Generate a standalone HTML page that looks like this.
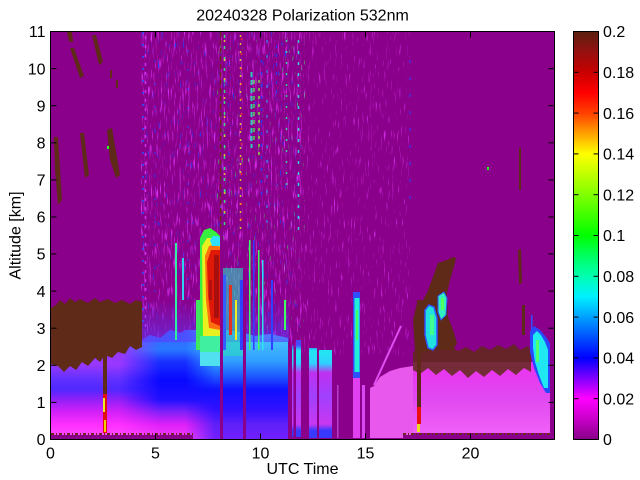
<!DOCTYPE html>
<html><head><meta charset="utf-8"><style>
html,body{margin:0;padding:0;background:#fff;}
svg{display:block;}
text{font-family:"Liberation Sans",Arial,Helvetica,sans-serif;font-size:16px;fill:#000;}
</style></head><body>
<svg xmlns="http://www.w3.org/2000/svg" width="640" height="480" viewBox="0 0 640 480">
<defs>
<linearGradient id="cb" x1="0" y1="1" x2="0" y2="0">
<stop offset="0" stop-color="#880088"/>
<stop offset="0.05" stop-color="#c800c8"/>
<stop offset="0.1" stop-color="#ff00ff"/>
<stop offset="0.15" stop-color="#8000ff"/>
<stop offset="0.2" stop-color="#0000ff"/>
<stop offset="0.25" stop-color="#0050ff"/>
<stop offset="0.3" stop-color="#00a0ff"/>
<stop offset="0.35" stop-color="#00f0ff"/>
<stop offset="0.4" stop-color="#00ffb0"/>
<stop offset="0.45" stop-color="#00ff60"/>
<stop offset="0.5" stop-color="#00ff00"/>
<stop offset="0.6" stop-color="#80ff00"/>
<stop offset="0.7" stop-color="#ffff00"/>
<stop offset="0.75" stop-color="#ffa000"/>
<stop offset="0.8" stop-color="#ff4000"/>
<stop offset="0.85" stop-color="#ff0000"/>
<stop offset="0.9" stop-color="#c80000"/>
<stop offset="0.95" stop-color="#961010"/>
<stop offset="1" stop-color="#5a2010"/>
</linearGradient>
<filter id="fA" filterUnits="userSpaceOnUse" x="141" y="32" width="160" height="315" color-interpolation-filters="sRGB">
<feTurbulence type="fractalNoise" baseFrequency="0.7 0.07" numOctaves="2" seed="4"/>
<feColorMatrix type="matrix" values="0 0 0 0 0.86  0 0 0 0 0.2  0 0 0 0 0.96  4.5 0 0 0 -2.6"/>
</filter>
<filter id="fB" filterUnits="userSpaceOnUse" x="300" y="32" width="110" height="323" color-interpolation-filters="sRGB">
<feTurbulence type="fractalNoise" baseFrequency="0.7 0.07" numOctaves="2" seed="9"/>
<feColorMatrix type="matrix" values="0 0 0 0 0.86  0 0 0 0 0.2  0 0 0 0 0.96  4.5 0 0 0 -2.85"/>
</filter>
<filter id="fC" filterUnits="userSpaceOnUse" x="141" y="32" width="160" height="315" color-interpolation-filters="sRGB">
<feTurbulence type="fractalNoise" baseFrequency="0.6 0.1" numOctaves="2" seed="13"/>
<feColorMatrix type="matrix" values="0 0 0 0 0.15  0 0 0 0 0.25  0 0 0 0 1  6 0 0 0 -4.1"/>
</filter>
<filter id="fD" filterUnits="userSpaceOnUse" x="215" y="32" width="90" height="320" color-interpolation-filters="sRGB">
<feTurbulence type="fractalNoise" baseFrequency="0.7 0.09" numOctaves="2" seed="21"/>
<feColorMatrix type="matrix" values="0 0 0 0 0.2  0 0 0 0 1  0 0 0 0 0.4  6 0 0 0 -4.3"/>
</filter>
<clipPath id="cL"><polygon points="51,340 142,340 150,335 160,338 170,330 180,333 190,328 200,331 210,334 225,330 240,332 255,336 270,334 288,338 288,439 51,439"/></clipPath>
<linearGradient id="gA" gradientUnits="userSpaceOnUse" x1="0" y1="340" x2="0" y2="439">
<stop offset="0" stop-color="#9838ff"/>
<stop offset="0.25" stop-color="#9838ff"/>
<stop offset="0.4" stop-color="#6030ff"/>
<stop offset="0.5" stop-color="#5028ff"/>
<stop offset="0.6" stop-color="#9020f8"/>
<stop offset="0.72" stop-color="#d020f8"/>
<stop offset="0.86" stop-color="#ff30ff"/>
<stop offset="1" stop-color="#ff50ff"/>
</linearGradient>
<linearGradient id="gB" gradientUnits="userSpaceOnUse" x1="0" y1="330" x2="0" y2="439">
<stop offset="0" stop-color="#4060ff"/>
<stop offset="0.18" stop-color="#2878ff"/>
<stop offset="0.29" stop-color="#1830ff"/>
<stop offset="0.46" stop-color="#0808ff"/>
<stop offset="0.64" stop-color="#2010ff"/>
<stop offset="0.75" stop-color="#8020f8"/>
<stop offset="0.87" stop-color="#e020f8"/>
<stop offset="1" stop-color="#f040ff"/>
</linearGradient>
<linearGradient id="gC" gradientUnits="userSpaceOnUse" x1="0" y1="330" x2="0" y2="439">
<stop offset="0" stop-color="#50b8ff"/>
<stop offset="0.14" stop-color="#40b8ff"/>
<stop offset="0.28" stop-color="#30a0ff"/>
<stop offset="0.41" stop-color="#2060ff"/>
<stop offset="0.55" stop-color="#1010ff"/>
<stop offset="0.73" stop-color="#3010ff"/>
<stop offset="0.87" stop-color="#6020f8"/>
<stop offset="1" stop-color="#7020ff"/>
</linearGradient>
<linearGradient id="mgB" gradientUnits="userSpaceOnUse" x1="120" y1="0" x2="160" y2="0"><stop offset="0" stop-color="#000"/><stop offset="1" stop-color="#fff"/></linearGradient>
<linearGradient id="mgC" gradientUnits="userSpaceOnUse" x1="185" y1="0" x2="215" y2="0"><stop offset="0" stop-color="#000"/><stop offset="1" stop-color="#fff"/></linearGradient>
<mask id="mB" maskUnits="userSpaceOnUse" x="0" y="0" width="640" height="480"><rect x="0" y="0" width="640" height="480" fill="url(#mgB)"/></mask>
<mask id="mC" maskUnits="userSpaceOnUse" x="0" y="0" width="640" height="480"><rect x="0" y="0" width="640" height="480" fill="url(#mgC)"/></mask>
<linearGradient id="gR" gradientUnits="userSpaceOnUse" x1="0" y1="362" x2="0" y2="433">
<stop offset="0" stop-color="#f030f8"/>
<stop offset="0.15" stop-color="#e838f0"/>
<stop offset="0.5" stop-color="#e048f0"/>
<stop offset="1" stop-color="#f060f8"/>
</linearGradient>
<linearGradient id="gM" gradientUnits="userSpaceOnUse" x1="0" y1="345" x2="0" y2="438">
<stop offset="0" stop-color="#4848ff"/>
<stop offset="0.06" stop-color="#20e8f0"/>
<stop offset="0.2" stop-color="#30d0ff"/>
<stop offset="0.3" stop-color="#c030f0"/>
<stop offset="0.55" stop-color="#a040ff"/>
<stop offset="0.85" stop-color="#c838f0"/>
<stop offset="0.92" stop-color="#3838ff"/>
<stop offset="1" stop-color="#3838ff"/>
</linearGradient>
<linearGradient id="fr" gradientUnits="userSpaceOnUse" x1="0" y1="298" x2="0" y2="342">
<stop offset="0" stop-color="#5a3cff" stop-opacity="0"/>
<stop offset="1" stop-color="#5a3cff" stop-opacity="0.6"/>
</linearGradient>
</defs>

<rect x="0" y="0" width="640" height="480" fill="#fff"/>
<rect x="51" y="32" width="503" height="407" fill="#8a008a"/>

<!-- speckle noise -->
<rect x="141" y="32" width="160" height="315" filter="url(#fA)"/>
<rect x="300" y="32" width="110" height="323" filter="url(#fB)"/>
<rect x="141" y="32" width="160" height="315" filter="url(#fC)"/>
<rect x="215" y="32" width="90" height="320" filter="url(#fD)"/>
<line x1="143" y1="32" x2="143" y2="330" stroke="#3050ff" stroke-width="2" stroke-dasharray="2 10" opacity="0.8"/>
<line x1="145.5" y1="36" x2="145.5" y2="330" stroke="#d030f0" stroke-width="1.5" stroke-dasharray="3 6"/>

<!-- colored thin lines in upper region -->
<g opacity="0.85">
<line x1="224.5" y1="35" x2="224.5" y2="227" stroke="#30ff80" stroke-width="1.5" stroke-dasharray="3 8"/>
<line x1="224.5" y1="40" x2="224.5" y2="227" stroke="#f0e020" stroke-width="1.5" stroke-dasharray="2 17"/>
<line x1="240.5" y1="35" x2="240.5" y2="230" stroke="#e0e020" stroke-width="1.5" stroke-dasharray="2 6"/>
<line x1="241.5" y1="38" x2="241.5" y2="230" stroke="#ff3020" stroke-width="1.5" stroke-dasharray="2 13"/>
<line x1="251.5" y1="72" x2="251.5" y2="148" stroke="#20f0c0" stroke-width="2" stroke-dasharray="5 3"/>
<line x1="254" y1="80" x2="254" y2="140" stroke="#40ff40" stroke-width="1.5" stroke-dasharray="4 4"/>
<line x1="259" y1="80" x2="259" y2="158" stroke="#80ff30" stroke-width="1.5" stroke-dasharray="3 5"/>
<line x1="261.5" y1="60" x2="261.5" y2="200" stroke="#2040ff" stroke-width="1.5" stroke-dasharray="3 9"/>
<line x1="267" y1="40" x2="267" y2="230" stroke="#30a0ff" stroke-width="1.2" stroke-dasharray="3 12"/>
<line x1="276.5" y1="45" x2="276.5" y2="100" stroke="#2040ff" stroke-width="1.2" stroke-dasharray="3 6"/>
<line x1="286.5" y1="40" x2="286.5" y2="190" stroke="#30f0a0" stroke-width="1.5" stroke-dasharray="2 9"/>
<line x1="298.5" y1="40" x2="298.5" y2="230" stroke="#30f0e0" stroke-width="1.5" stroke-dasharray="3 8"/>
<line x1="410" y1="60" x2="410" y2="200" stroke="#3040ff" stroke-width="1.2" stroke-dasharray="3 14"/>
<line x1="155" y1="60" x2="155" y2="300" stroke="#3040ff" stroke-width="1.2" stroke-dasharray="2 21"/>
<line x1="188" y1="50" x2="188" y2="300" stroke="#3040ff" stroke-width="1.2" stroke-dasharray="2 17"/>
</g>

<!-- lower-left aerosol layer -->
<g clip-path="url(#cL)">
<rect x="51" y="330" width="240" height="110" fill="url(#gA)"/>
<rect x="51" y="330" width="240" height="110" fill="url(#gB)" mask="url(#mB)"/>
<rect x="51" y="330" width="240" height="110" fill="url(#gC)" mask="url(#mC)"/>
</g>
<rect x="141" y="298" width="148" height="44" fill="url(#fr)"/>

<!-- blocks near 11.5-13h -->
<rect x="292" y="345" width="1.5" height="92" fill="url(#gM)"/>
<rect x="296" y="340" width="5" height="97" fill="url(#gM)"/>
<rect x="309" y="348" width="8" height="90" fill="url(#gM)"/>
<rect x="319" y="350" width="13" height="88" fill="url(#gM)"/>

<!-- left brown region -->
<polygon fill="#5f2a17" points="51,308 56,305 60,300 65,304 70,298 75,302 80,299 88,303 95,298 100,302 108,299 115,303 122,300 130,304 136,300 142,302 142,347 136,350 130,346 125,354 118,352 112,358 105,355 100,362 95,358 88,366 82,362 76,370 70,366 64,372 58,366 51,364"/>
<rect x="103" y="355" width="4" height="40" fill="#5f2a17"/>
<rect x="103" y="394" width="4" height="39" fill="#e01010"/>
<rect x="103" y="398" width="2" height="14" fill="#e8f020"/>
<rect x="104" y="420" width="2" height="12" fill="#f0d000"/>
<g fill="#5f2a17">
<polygon points="67,32 72,32 73,42 69,42"/>
<polygon points="70,48 74,48 84,76 80,78"/>
<polygon points="92,35 96,35 103,62 99,65"/>
<rect x="110" y="70" width="2" height="8"/>
<rect x="116" y="80" width="2" height="8"/>
<polygon points="54,137 58,137 62,200 58,205 55,170"/>
<polygon points="80,133 84,133 89,175 85,178"/>
<polygon points="107,130 112,128 120,175 116,178 110,160"/>
<rect x="519" y="148" width="2" height="42"/>
</g>
<rect x="107" y="146" width="2" height="3" fill="#20ff20"/>
<rect x="487" y="167" width="2" height="3" fill="#20ff20"/>

<!-- plume ~7-8h -->
<rect x="196" y="300" width="4" height="50" fill="#40e860"/>
<polygon fill="#38f040" points="200,238 204,230 210,228 216,232 220,236 220,366 200,366"/>
<polygon fill="#e8f020" points="202,246 207,238 214,238 220,242 220,336 203,336"/>
<polygon fill="#ff7010" points="205,256 209,246 216,244 220,247 220,330 209,328 206,300"/>
<polygon fill="#e01808" points="207,262 211,250 220,250 220,326 211,322 208,295"/>
<rect x="214" y="255" width="5" height="63" fill="#a81010"/>
<rect x="209" y="280" width="3" height="20" fill="#b01010"/>
<polygon fill="#30e0ff" points="210,240 213,236 218,236 220,238 220,246 212,246"/>
<rect x="200" y="336" width="20" height="16" fill="#40f0a0"/>
<rect x="200" y="352" width="20" height="14" fill="#50e0f0"/>
<rect x="223" y="268" width="20" height="88" fill="#28d8c0" opacity="0.6"/>
<rect x="223" y="275" width="3" height="75" fill="#3060ff"/>
<rect x="229" y="285" width="3" height="50" fill="#e83020"/>
<rect x="235" y="300" width="2" height="40" fill="#f0f020"/>
<rect x="240" y="280" width="3" height="70" fill="#3040ff"/>
<rect x="175" y="243" width="2" height="97" fill="#30f0a0"/>
<rect x="182" y="258" width="2" height="42" fill="#30d0f0"/>
<rect x="249" y="240" width="1.5" height="110" fill="#40ff60"/>
<rect x="253" y="240" width="1.5" height="110" fill="#3040ff"/>
<rect x="258" y="250" width="1.5" height="100" fill="#40ff60"/>
<rect x="262" y="260" width="1.5" height="90" fill="#30e0f0"/>
<rect x="271" y="280" width="2" height="70" fill="#3040ff"/>
<rect x="284" y="300" width="2" height="30" fill="#40ff60"/>

<!-- vertical no-data stripes -->
<rect x="220" y="228" width="3" height="211" fill="#8a008a"/>
<line x1="220.5" y1="32" x2="220.5" y2="228" stroke="#6a2a20" stroke-width="1.5" stroke-dasharray="5 3"/>
<rect x="243" y="32" width="3" height="407" fill="#8a008a"/>

<!-- 14-15h columns -->
<rect x="337" y="385" width="1.5" height="53" fill="#b040d0"/>
<rect x="353" y="292" width="7" height="88" fill="#3050ff"/>
<rect x="354.5" y="298" width="5" height="74" fill="#20f0d8"/>
<rect x="356" y="310" width="2" height="30" fill="#40ff60"/>
<rect x="353" y="378" width="7" height="60" fill="#e040f0"/>
<rect x="362" y="385" width="3" height="53" fill="#d848f0"/>
<polygon fill="#e858ec" points="370,438 370,388 374,386 380,377 390,371 400,368 413,366 413,438"/>
<line x1="374" y1="385" x2="401" y2="326" stroke="#e050f0" stroke-width="2"/>

<!-- right magenta layer -->
<rect x="413" y="362" width="137" height="71" fill="url(#gR)"/>
<polygon fill="#5f2a17" opacity="0.85" points="413,352 420,346 428,350 435,344 443,350 450,345 458,351 466,347 474,352 482,346 490,350 498,345 506,349 514,344 520,350 528,346 531,352 531,372 524,368 516,375 508,369 500,376 492,370 484,377 476,371 468,378 460,370 452,376 444,369 436,375 428,368 420,374 413,370"/>
<polygon fill="#5f2a17" points="415,350 413,320 417,303 423,300 427,293 433,277 438,263 447,260 453,257 456,258 455,263 450,280 447,293 448,317 453,330 457,343 453,350 440,350 432,350 427,352 422,353"/>
<polygon fill="#20e0e0" stroke="#3050ff" stroke-width="1.5" points="425,310 429,305 434,307 437,318 437,345 433,350 428,348 425,335"/>
<rect x="430" y="315" width="4" height="20" fill="#40ff90"/>
<polygon fill="#30f0c0" stroke="#3050ff" stroke-width="1" points="438,296 444,292 447,298 446,315 441,320 438,312"/>
<rect x="441" y="298" width="3" height="12" fill="#50ff60"/>
<rect x="417" y="300" width="4" height="107" fill="#5f2a17"/>
<rect x="417" y="407" width="4" height="17" fill="#e81010"/>
<rect x="417" y="424" width="3" height="8" fill="#e8e020"/>
<polygon fill="#5f2a17" points="518,250 521,249 522,283 519,284"/>
<rect x="522" y="305" width="3" height="30" fill="#5f2a17"/>
<rect x="531" y="315" width="1.5" height="23" fill="#3050ff"/>
<polygon fill="#2848ff" points="530,332 534,326 540,330 546,337 551,345 551,393 546,393 540,383 534,368 530,352"/>
<polygon fill="#20e8f0" points="533,335 537,331 541,335 545,342 548,350 548,388 544,388 539,375 535,362 533,348"/>
<rect x="536" y="340" width="3" height="22" fill="#50ff70"/>

<!-- bottom strips -->
<rect x="51" y="435" width="142" height="4.5" fill="#8a008a"/>
<line x1="51" y1="434" x2="193" y2="434" stroke="#6a2a18" stroke-width="2" stroke-dasharray="3 2 1 2"/>
<rect x="403" y="435" width="147" height="4.5" fill="#8a008a"/>
<line x1="403" y1="434" x2="550" y2="434" stroke="#6a2a18" stroke-width="2" stroke-dasharray="3 2 1 2"/>
<rect x="550" y="32" width="4" height="407" fill="#8a008a"/>

<!-- frame -->
<rect x="50.5" y="31.5" width="504" height="408" fill="none" stroke="#000" stroke-width="1"/>
<g stroke="#000" stroke-width="1">
<line x1="50.5" y1="439.5" x2="50.5" y2="433.5"/><line x1="155.5" y1="439.5" x2="155.5" y2="433.5"/><line x1="260.5" y1="439.5" x2="260.5" y2="433.5"/><line x1="365.5" y1="439.5" x2="365.5" y2="433.5"/><line x1="470.5" y1="439.5" x2="470.5" y2="433.5"/>
<line x1="155.5" y1="31.5" x2="155.5" y2="37.5"/><line x1="260.5" y1="31.5" x2="260.5" y2="37.5"/><line x1="365.5" y1="31.5" x2="365.5" y2="37.5"/><line x1="470.5" y1="31.5" x2="470.5" y2="37.5"/>
<line x1="50.5" y1="402.4" x2="56.5" y2="402.4"/><line x1="50.5" y1="365.3" x2="56.5" y2="365.3"/><line x1="50.5" y1="328.2" x2="56.5" y2="328.2"/><line x1="50.5" y1="291.1" x2="56.5" y2="291.1"/><line x1="50.5" y1="254" x2="56.5" y2="254"/><line x1="50.5" y1="217" x2="56.5" y2="217"/><line x1="50.5" y1="179.9" x2="56.5" y2="179.9"/><line x1="50.5" y1="142.8" x2="56.5" y2="142.8"/><line x1="50.5" y1="105.7" x2="56.5" y2="105.7"/><line x1="50.5" y1="68.6" x2="56.5" y2="68.6"/>
<line x1="554.5" y1="402.4" x2="548.5" y2="402.4"/><line x1="554.5" y1="365.3" x2="548.5" y2="365.3"/><line x1="554.5" y1="328.2" x2="548.5" y2="328.2"/><line x1="554.5" y1="291.1" x2="548.5" y2="291.1"/><line x1="554.5" y1="254" x2="548.5" y2="254"/><line x1="554.5" y1="217" x2="548.5" y2="217"/><line x1="554.5" y1="179.9" x2="548.5" y2="179.9"/><line x1="554.5" y1="142.8" x2="548.5" y2="142.8"/><line x1="554.5" y1="105.7" x2="548.5" y2="105.7"/><line x1="554.5" y1="68.6" x2="548.5" y2="68.6"/>
</g>

<!-- colorbar -->
<rect x="573.5" y="31.5" width="25" height="408" fill="url(#cb)" stroke="#000" stroke-width="1"/>
<g stroke="#000" stroke-width="1">
<line x1="573.5" y1="398.7" x2="578.5" y2="398.7"/><line x1="573.5" y1="357.9" x2="578.5" y2="357.9"/><line x1="573.5" y1="317.1" x2="578.5" y2="317.1"/><line x1="573.5" y1="276.3" x2="578.5" y2="276.3"/><line x1="573.5" y1="235.5" x2="578.5" y2="235.5"/><line x1="573.5" y1="194.7" x2="578.5" y2="194.7"/><line x1="573.5" y1="153.9" x2="578.5" y2="153.9"/><line x1="573.5" y1="113.1" x2="578.5" y2="113.1"/><line x1="573.5" y1="72.3" x2="578.5" y2="72.3"/>
<line x1="598.5" y1="398.7" x2="593.5" y2="398.7"/><line x1="598.5" y1="357.9" x2="593.5" y2="357.9"/><line x1="598.5" y1="317.1" x2="593.5" y2="317.1"/><line x1="598.5" y1="276.3" x2="593.5" y2="276.3"/><line x1="598.5" y1="235.5" x2="593.5" y2="235.5"/><line x1="598.5" y1="194.7" x2="593.5" y2="194.7"/><line x1="598.5" y1="153.9" x2="593.5" y2="153.9"/><line x1="598.5" y1="113.1" x2="593.5" y2="113.1"/><line x1="598.5" y1="72.3" x2="593.5" y2="72.3"/>
</g>

<!-- text -->
<text x="302.5" y="20.5" text-anchor="middle">20240328 Polarization 532nm</text>
<g text-anchor="middle">
<text x="50.5" y="458.5">0</text>
<text x="155.5" y="458.5">5</text>
<text x="260.5" y="458.5">10</text>
<text x="365.5" y="458.5">15</text>
<text x="470.5" y="458.5">20</text>
<text x="302.5" y="474">UTC Time</text>
</g>
<g text-anchor="end">
<text x="45.5" y="445.2">0</text>
<text x="45.5" y="408.1">1</text>
<text x="45.5" y="371">2</text>
<text x="45.5" y="333.9">3</text>
<text x="45.5" y="296.8">4</text>
<text x="45.5" y="259.7">5</text>
<text x="45.5" y="222.7">6</text>
<text x="45.5" y="185.6">7</text>
<text x="45.5" y="148.5">8</text>
<text x="45.5" y="111.4">9</text>
<text x="45.5" y="74.3">10</text>
<text x="45.5" y="37.2">11</text>
</g>
<text x="0" y="0" text-anchor="middle" transform="translate(20.5,235.5) rotate(-90)">Altitude [km]</text>
<g>
<text x="603" y="445.2">0</text>
<text x="603" y="404.4">0.02</text>
<text x="603" y="363.6">0.04</text>
<text x="603" y="322.8">0.06</text>
<text x="603" y="282">0.08</text>
<text x="603" y="241.2">0.1</text>
<text x="603" y="200.4">0.12</text>
<text x="603" y="159.6">0.14</text>
<text x="603" y="118.8">0.16</text>
<text x="603" y="78">0.18</text>
<text x="603" y="37.2">0.2</text>
</g>
</svg>
</body></html>
